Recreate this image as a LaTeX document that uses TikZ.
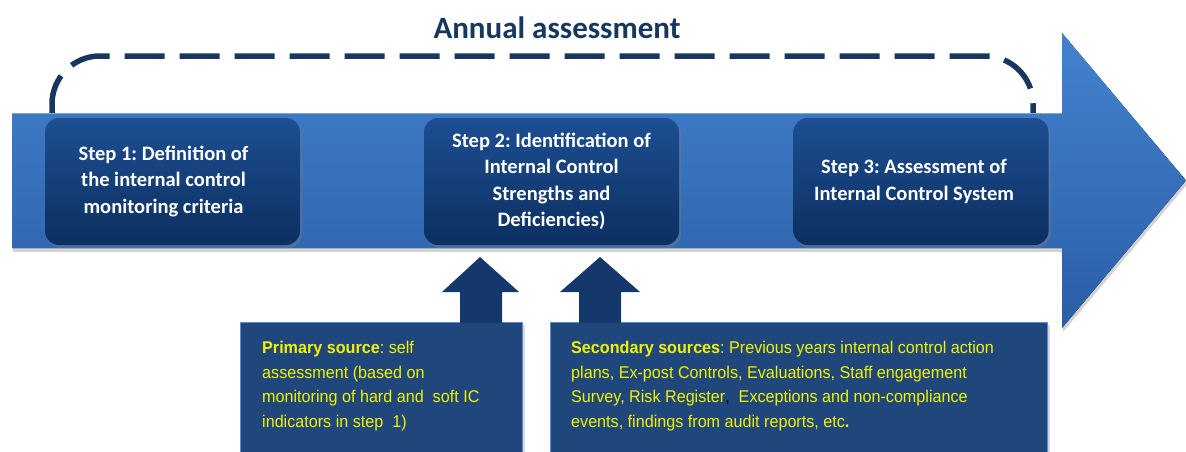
\documentclass[tikz,border=0pt]{standalone}
\usepackage{fontspec}
\setmainfont{Carlito}
\newfontfamily\arialf[FakeStretch=0.95]{Liberation Sans}
\usetikzlibrary{shadows}
\frenchspacing
\definecolor{navy}{HTML}{17375E}
\definecolor{bodytop}{HTML}{4482CF}
\definecolor{bodybot}{HTML}{2A5EA6}
\definecolor{steptop}{HTML}{1D4F92}
\definecolor{stepbot}{HTML}{0C2F60}
\definecolor{uparr}{HTML}{14386C}
\definecolor{srcfill}{HTML}{20477B}
\definecolor{srcline}{HTML}{5B8CCF}
\definecolor{yel}{HTML}{F2F200}
\tikzset{
  stepbox/.style={rounded corners=14pt, top color=steptop, bottom color=stepbot,
    minimum width=255pt, minimum height=127pt, text=white, align=center,
    font=\bfseries\fontsize{20.5}{26.5}\selectfont,
    drop shadow={opacity=0.35, shadow xshift=2pt, shadow yshift=-3pt}},
  uparrow/.style={fill=uparr, line join=round},
  srcbox/.style={fill=srcfill, draw=srcline, line width=1pt, anchor=north west,
    minimum height=160pt, drop shadow={opacity=0.3, shadow xshift=2pt, shadow yshift=-2pt}},
  srctext/.style={text=yel, anchor=north west, inner sep=0pt, align=left,
    font=\arialf\fontsize{17}{24.7}\selectfont},
}
\begin{document}
\begin{tikzpicture}[x=1pt,y=-1pt]
\useasboundingbox (0,0) rectangle (1186,451);
\clip (0,0) rectangle (1186,451);
% title
\node[text=navy, font=\bfseries\fontsize{31}{31}\selectfont] (title) at (557,28) {Annual assessment};
% dashed loop
\coordinate (ls) at (52,114);
\coordinate (re) at (1033,114);
\draw[navy, line width=5.5pt, dash pattern=on 40pt off 15pt, rounded corners=48pt]
  (ls) -- (52,56) -- (1033,56) -- (re);
% big arrow
\fill[top color=bodytop, bottom color=bodybot,
  drop shadow={opacity=0.35, shadow xshift=1pt, shadow yshift=-4pt}]
  (12,113) -- (1062,113) -- (1062,33) -- (1186,180.5) -- (1062,328) -- (1062,248) -- (12,248) -- cycle;
\draw[white, opacity=0.35, line width=1pt] (12,113.5) -- (1062,113.5);
% steps
\node[stepbox] (s1) at (172.5,181.5) {\hspace*{-18pt}Step 1: Definition of\\\hspace*{-18pt}the internal control\\\hspace*{-18pt}monitoring criteria};
\node[stepbox] (s2) at (551.5,181.5) {Step 2: Identification of\\Internal Control\\Strengths and\\Deficiencies)};
\node[stepbox] (s3) at (921,181.5) {\hspace*{-14pt}Step 3: Assessment of\\\hspace*{-14pt}Internal Control System};
% source boxes
\node[srcbox, minimum width=282pt] (prim) at (240,322) {};
\node[srcbox, minimum width=497pt] (sec) at (550,322) {};
% up arrows
\fill[uparrow] (460,323) -- (460,292) -- (442,292) -- (480,257) -- (519,292) -- (502,292) -- (502,323) -- cycle;
\fill[uparrow] (579,323) -- (579,292) -- (560,292) -- (600,257) -- (640,292) -- (621,292) -- (621,323) -- cycle;
% texts
\node[srctext] (ptext) at (262,341) {\textbf{Primary source}: self\\assessment (based on\\monitoring of hard and\ \ soft IC\\indicators in step\ \ 1)};
\node[srctext] (stext) at (571,341) {\textbf{Secondary sources}: Previous years internal control action\\plans, Ex-post Controls, Evaluations, Staff engagement\\Survey, Risk Register{\color{black},}\ \ Exceptions and non-compliance\\events, findings from audit reports, etc\textbf{.}};
\end{tikzpicture}
\end{document}
